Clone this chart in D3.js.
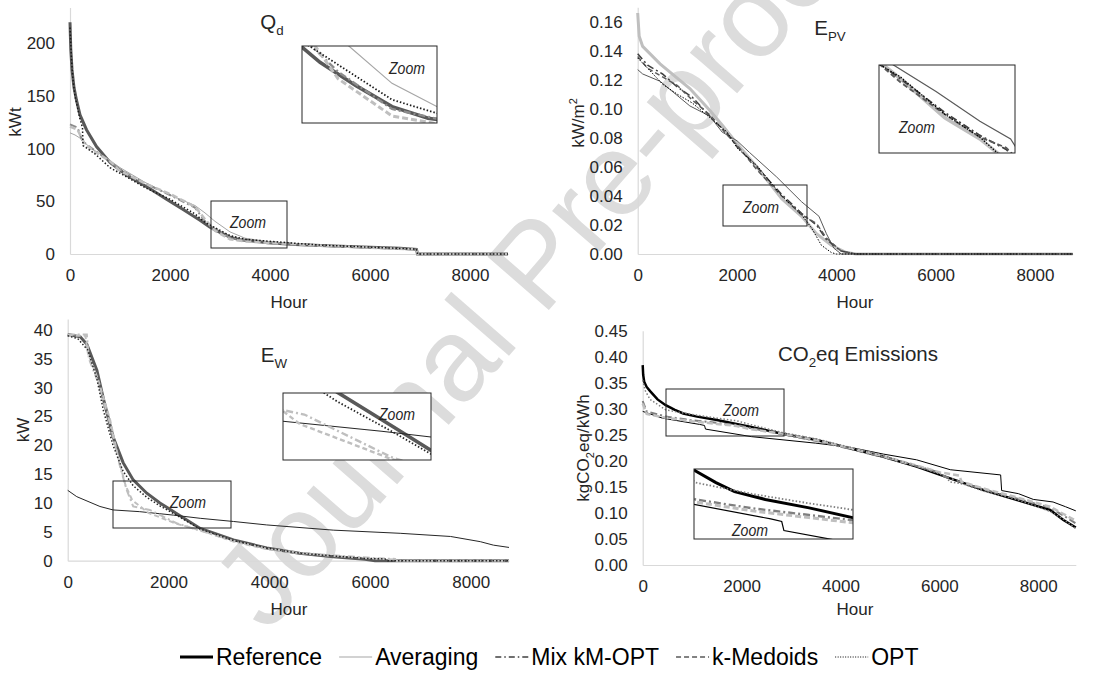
<!DOCTYPE html>
<html>
<head>
<meta charset="utf-8">
<script src="https://cdn.jsdelivr.net/npm/d3@7"></script>
<style>
  body { margin: 0; background: #fff; }
  svg text { font-family: "Liberation Sans", Arial, sans-serif; }
</style>
</head>
<body>
<svg id="chart" width="1094" height="678"></svg>
<script>
// ---- data: [hour, value] points of each duration curve ----
const hourTicks = [0, 2000, 4000, 6000, 8000];
const seriesNames = ["Reference", "Averaging", "Mix kM-OPT", "k-Medoids", "OPT"];

// Q_d (kWt)
const qdTicks = [0, 50, 100, 150, 200];
const qdRef  = [[0,220],[15,195],[40,175],[80,158],[130,146],[200,132],[330,118],[530,102],[800,87],[1130,75],[1600,62],[1930,52],[2270,42],[2600,32],[2800,25.5],[3000,20.5],[3200,16],[3400,13.5],[3700,12],[3950,10.7],[4500,9],[5270,7.6],[6000,6.4],[6600,5.4],[6930,4.4],[6950,0],[8760,0]];
const qdAvg  = [[0,115],[100,113],[200,110],[400,101],[700,92],[1000,82],[1500,68],[2000,56],[2500,46],[2700,39],[2900,31],[3200,21],[3500,15],[4000,11.5],[5000,8.2],[6000,6.2],[6930,4.4],[6950,0],[8760,0]];
const qdMix  = [[0,123],[150,120],[250,107],[500,98],[800,88],[1000,80],[1500,67],[2000,56],[2500,44],[2700,31],[2900,23.5],[3200,15.5],[3500,13],[4000,11],[5000,8],[6000,6],[6930,4.3],[6950,0],[8760,0]];
const qdKmed = [[0,121],[150,118],[300,104],[500,97],[800,88],[1000,79],[1500,67],[2000,57],[2500,45],[2700,33],[2900,22],[3200,14],[3500,12],[4000,10.5],[5000,8],[6000,6],[6930,4.3],[6950,0],[8760,0]];
const qdOpt  = [[0,215],[30,185],[60,165],[100,150],[200,128],[250,120],[260,103],[500,95],[800,82],[1100,74],[1500,63],[2000,52],[2500,38],[2700,30],[2900,25],[3200,17.5],[3500,14],[4000,12],[5000,8.5],[6000,6.5],[6930,4.6],[6950,0],[8760,0]];

// E_PV (kW/m2)
const pvTicks = [0, 0.02, 0.04, 0.06, 0.08, 0.10, 0.12, 0.14, 0.16];
const pvRef  = [[0,0.166],[30,0.150],[100,0.143],[450,0.131],[1050,0.114],[1450,0.099],[1720,0.088],[2000,0.076],[2400,0.060],[2900,0.038],[3300,0.026],[3600,0.014],[3900,0.006],[4200,0.001],[4400,0],[8760,0]];
const pvAvg  = [[0,0.127],[100,0.124],[450,0.119],[1050,0.102],[1450,0.095],[1700,0.084],[2000,0.078],[2250,0.070],[2800,0.053],[3300,0.036],[3650,0.026],[3800,0.014],[3950,0.004],[4100,0],[8760,0]];
const pvMix  = [[0,0.138],[200,0.130],[500,0.124],[800,0.115],[1100,0.108],[1450,0.095],[1800,0.083],[2000,0.074],[2400,0.060],[2900,0.041],[3300,0.028],[3600,0.020],[3800,0.010],[4100,0.002],[4400,0],[8760,0]];
const pvKmed = [[0,0.136],[200,0.128],[500,0.122],[800,0.116],[1100,0.106],[1450,0.096],[1800,0.082],[2000,0.075],[2400,0.058],[2900,0.040],[3300,0.027],[3600,0.021],[3800,0.011],[4100,0.002],[4400,0],[8760,0]];
const pvOpt  = [[0,0.135],[200,0.128],[500,0.117],[800,0.110],[1100,0.104],[1450,0.094],[1800,0.084],[2000,0.073],[2400,0.061],[2900,0.040],[3300,0.027],[3500,0.018],[3700,0.006],[3900,0.001],[4000,0],[8760,0]];

// E_W (kW)
const ewTicks = [0, 5, 10, 15, 20, 25, 30, 35, 40];
const ewRef  = [[0,39.2],[250,38.8],[380,37.5],[580,33],[710,28],[900,21.5],[1100,17],[1300,14],[1570,11.7],[1830,10],[2160,8.2],[2630,5.6],[3290,3.6],[3950,2.2],[4600,1.3],[5270,0.7],[5900,0.25],[6100,0],[8760,0]];
const ewAvg  = [[0,12.2],[180,11.1],[640,9.4],[900,8.8],[1430,8.5],[2100,7.9],[2630,7.35],[3290,6.8],[3950,6.2],[5270,5.3],[6600,4.75],[7600,4.2],[8190,3.3],[8450,2.7],[8760,2.3]];
const ewMix  = [[0,39.2],[380,39.2],[420,35],[600,31],[840,23.8],[1040,16.3],[1170,12.3],[1300,9.4],[1630,8.8],[2160,6.5],[2630,5.2],[3300,3.4],[3950,2.1],[4600,1.4],[5300,0.9],[6000,0.5],[6500,0.3],[6520,0],[8760,0]];
const ewKmed = [[0,39],[350,39],[400,36],[600,31.5],[840,24.5],[1000,18],[1150,13],[1280,10.5],[1600,8.3],[2160,6.4],[2630,5.3],[3300,3.3],[3950,2.0],[4600,1.3],[5300,0.8],[6000,0.4],[6500,0.2],[6520,0],[8760,0]];
const ewOpt  = [[0,39],[200,38.5],[400,36.5],[580,31.5],[710,26],[900,20],[1100,15.5],[1300,13],[1570,11],[1830,9.5],[2160,7.9],[2630,5.5],[3290,3.5],[3950,2.2],[4600,1.3],[5300,0.8],[5900,0.4],[6300,0.3],[6350,0],[8760,0]];

// CO2eq emissions (kgCO2eq/kWh)
const coTicks = [0, 0.05, 0.10, 0.15, 0.20, 0.25, 0.30, 0.35, 0.40, 0.45];
const coRef  = [[0,0.384],[10,0.365],[30,0.352],[80,0.342],[150,0.334],[300,0.318],[465,0.307],[650,0.298],[820,0.291],[1100,0.285],[1500,0.2785],[2170,0.2657],[2840,0.2516],[3520,0.240],[4190,0.224],[4870,0.208],[5540,0.189],[6220,0.1665],[6890,0.144],[7560,0.125],[8240,0.1057],[8510,0.0864],[8760,0.072]];
const coAvg  = [[0,0.295],[400,0.282],[1150,0.270],[1250,0.268],[1270,0.261],[2200,0.2465],[3500,0.234],[4200,0.226],[4870,0.213],[5540,0.202],[6220,0.183],[7240,0.173],[7260,0.143],[7600,0.137],[7900,0.126],[8300,0.121],[8550,0.112],[8760,0.104]];
const coMix  = [[0,0.315],[80,0.295],[465,0.285],[1000,0.278],[1500,0.273],[1900,0.269],[2170,0.263],[2840,0.251],[3520,0.238],[4190,0.223],[4870,0.207],[5540,0.190],[6000,0.178],[6100,0.170],[6890,0.145],[7560,0.128],[8240,0.110],[8510,0.095],[8760,0.080]];
const coKmed = [[0,0.310],[80,0.290],[465,0.283],[1000,0.276],[1500,0.271],[1900,0.267],[2170,0.261],[2840,0.252],[3520,0.240],[4190,0.225],[4870,0.209],[5540,0.191],[6000,0.178],[6400,0.172],[6450,0.160],[6890,0.147],[7560,0.130],[8240,0.112],[8510,0.098],[8760,0.085]];
const coOpt  = [[0,0.355],[50,0.335],[150,0.318],[465,0.298],[700,0.294],[1000,0.289],[1500,0.282],[1900,0.277],[2170,0.270],[2840,0.254],[3520,0.242],[4190,0.226],[4870,0.210],[5540,0.190],[6150,0.170],[6200,0.160],[6500,0.155],[6890,0.142],[7560,0.126],[8240,0.103],[8510,0.088],[8760,0.070]];

// ---- layout ----
const svg = d3.select("#chart");
const textColor = "#262626";

// watermark (behind everything, runs off the top edge like the original)
svg.append("text")
   .attr("transform", "translate(267,634) rotate(-49)")
   .attr("font-size", 118)
   .style("fill", "#dcdcdc")
   .text("Journal Pre-proof");

function rich(sel, parts, size) {
  let shift = 0;
  parts.forEach(([t, k]) => {
    const target = k === "sub" ? size * 0.3 : k === "sup" ? -size * 0.4 : 0;
    const ts = sel.append("tspan").attr("dy", target - shift).text(t);
    if (k) ts.attr("font-size", size * 0.65);
    shift = target;
  });
}

const panels = [
  { data: [qdRef, qdAvg, qdMix, qdKmed, qdOpt], xr: [70, 508], yd: [0, 234], yr: [254, 7.5],
    ticks: qdTicks, fmt: d3.format("d"),
    title: [["Q"], ["d", "sub"]], tx: 272, ty: 29,
    ylab: [["kWt"]], lx: 15, ly: 122, hx: 289, hy: 308,
    styles: [["#595959", 3, null], ["#a6a6a6", 1, null], ["#8c8c8c", 2, "7,3,2,3"], ["#bfbfbf", 2.5, "6,3"], ["#1a1a1a", 1.5, "1.5,2"]],
    box: [211, 201, 287, 248], boxText: [248, 222],
    inset: [302, 46, 437, 123], insetText: [407, 68], insetH: [2700, 3450], insetV: [12.5, 29] },
  { data: [pvRef, pvAvg, pvMix, pvKmed, pvOpt], xr: [637.7, 1072.7], yd: [0, 0.17], yr: [254, 7.2],
    ticks: pvTicks, fmt: d3.format(".2f"),
    title: [["E"], ["PV", "sub"]], tx: 830, ty: 35,
    ylab: [["kW/m"], ["2", "sup"]], lx: 578, ly: 123, hx: 855, hy: 308,
    styles: [["#bfbfbf", 3, null], ["#595959", 1, null], ["#404040", 1.5, "7,3,2,3"], ["#595959", 1.5, "5,3"], ["#000", 1, "1.5,1.5"]],
    box: [723, 185, 807, 226], boxText: [761, 207],
    inset: [879, 65, 1015, 153], insetText: [917, 127], insetH: [2150, 3700], insetV: [0.018, 0.068] },
  { data: [ewRef, ewAvg, ewMix, ewKmed, ewOpt], xr: [67.7, 509], yd: [0, 41.9], yr: [560.7, 319],
    ticks: ewTicks, fmt: d3.format("d"),
    title: [["E"], ["W", "sub"]], tx: 274, ty: 362,
    ylab: [["kW"]], lx: 23, ly: 430, hx: 289, hy: 615,
    styles: [["#595959", 3, null], ["#262626", 1, null], ["#bfbfbf", 2, "7,3,2,3"], ["#bfbfbf", 2, "5,3"], ["#262626", 1.5, "1.5,2"]],
    box: [113, 481, 231, 528], boxText: [188, 502],
    inset: [283, 393, 431, 460], insetText: [397, 414], insetH: [1500, 2400], insetV: [6.35, 9.96] },
  { data: [coRef, coAvg, coMix, coKmed, coOpt], xr: [642.7, 1075.8], yd: [0, 0.45], yr: [565, 330.7],
    ticks: coTicks, fmt: d3.format(".2f"),
    title: [["CO"], ["2", "sub"], ["eq Emissions"]], tx: 858, ty: 361,
    ylab: [["kgCO"], ["2", "sub"], ["eq/kWh"]], lx: 583, ly: 448, hx: 855, hy: 615,
    styles: [["#000", 2.5, null], ["#000", 1, null], ["#7f7f7f", 2, "7,3,2,3"], ["#bfbfbf", 2.5, "6,3"], ["#7f7f7f", 1.5, "1.5,2"]],
    box: [666, 389, 784, 436], boxText: [741, 410],
    inset: [694, 469, 853, 539], insetText: [750, 530], insetH: [450, 1900], insetV: [0.2545, 0.3085] }
];

panels.forEach((p, pi) => {
  const x = d3.scaleLinear().domain([0, 8760]).range(p.xr);
  const y = d3.scaleLinear().domain(p.yd).range(p.yr);
  const g = svg.append("g");

  const yAxis = g.append("g").attr("transform", `translate(${p.xr[0]},0)`)
    .call(d3.axisLeft(y).tickValues(p.ticks).tickFormat(p.fmt).tickSize(0).tickPadding(15));
  const xAxis = g.append("g").attr("transform", `translate(0,${p.yr[0]})`)
    .call(d3.axisBottom(x).tickValues(hourTicks).tickFormat(d3.format("d")).tickSize(0).tickPadding(15));
  [yAxis, xAxis].forEach(a => {
    a.attr("font-size", 17).attr("font-family", null);
    a.select(".domain").attr("stroke", "#d9d9d9").attr("stroke-width", 1.2);
    a.selectAll("text").attr("fill", textColor);
  });

  const line = d3.line().x(d => x(d[0])).y(d => y(d[1]));
  p.data.forEach((s, i) => {
    const [c, w, dash] = p.styles[i];
    g.append("path").datum(s)
     .attr("fill", "none").attr("stroke", c).attr("stroke-width", w)
     .attr("stroke-dasharray", dash).attr("d", line);
  });

  // title and axis titles
  const t = g.append("text").attr("x", p.tx).attr("y", p.ty)
    .attr("text-anchor", "middle").attr("font-size", 20.5).attr("fill", textColor);
  rich(t, p.title, 20.5);
  const yl = g.append("text").attr("transform", `translate(${p.lx + 6},${p.ly}) rotate(-90)`)
    .attr("text-anchor", "middle").attr("font-size", 17).attr("fill", textColor);
  rich(yl, p.ylab, 17);
  g.append("text").attr("x", p.hx).attr("y", p.hy).attr("text-anchor", "middle")
   .attr("font-size", 17).attr("fill", textColor).text("Hour");

  // zoom box on the curves
  const [bx0, by0, bx1, by1] = p.box;
  g.append("rect").attr("x", bx0).attr("y", by0).attr("width", bx1 - bx0).attr("height", by1 - by0)
   .attr("fill", "none").attr("stroke", "#262626").attr("stroke-width", 1);
  g.append("text").attr("x", p.boxText[0]).attr("y", p.boxText[1] + 6).attr("text-anchor", "middle")
   .attr("font-size", 16).attr("font-style", "italic").attr("fill", textColor)
   .attr("textLength", 36).attr("lengthAdjust", "spacingAndGlyphs").text("Zoom");

  // magnified inset
  const [ix0, iy0, ix1, iy1] = p.inset;
  const xi = d3.scaleLinear().domain(p.insetH).range([ix0, ix1]);
  const yi = d3.scaleLinear().domain(p.insetV).range([iy1, iy0]);
  const clipId = "clip" + pi;
  svg.append("clipPath").attr("id", clipId).append("rect")
     .attr("x", ix0).attr("y", iy0).attr("width", ix1 - ix0).attr("height", iy1 - iy0);
  g.append("rect").attr("x", ix0).attr("y", iy0).attr("width", ix1 - ix0).attr("height", iy1 - iy0)
   .attr("fill", "#fff");
  const ig = g.append("g").attr("clip-path", `url(#${clipId})`);
  const iline = d3.line().x(d => xi(d[0])).y(d => yi(d[1]));
  p.data.forEach((s, i) => {
    const [c, w, dash] = p.styles[i];
    ig.append("path").datum(s)
      .attr("fill", "none").attr("stroke", c).attr("stroke-width", w * 1.2)
      .attr("stroke-dasharray", dash).attr("d", iline);
  });
  g.append("rect").attr("x", ix0).attr("y", iy0).attr("width", ix1 - ix0).attr("height", iy1 - iy0)
   .attr("fill", "none").attr("stroke", "#262626").attr("stroke-width", 1);
  g.append("text").attr("x", p.insetText[0]).attr("y", p.insetText[1] + 6).attr("text-anchor", "middle")
   .attr("font-size", 16).attr("font-style", "italic").attr("fill", textColor)
   .attr("textLength", 36).attr("lengthAdjust", "spacingAndGlyphs").text("Zoom");
});

// legend
const legendStyles = [["#000", 3, null], ["#a6a6a6", 1.2, null], ["#404040", 1.5, "6,3,1.5,3"], ["#595959", 1.5, "5,3"], ["#000", 1, "1,1.5"]];
const legend = svg.append("g");
let lx = 180;
const ly = 657;
seriesNames.forEach((name, i) => {
  const [c, w, dash] = legendStyles[i];
  legend.append("line").attr("x1", lx).attr("x2", lx + 33).attr("y1", ly).attr("y2", ly)
        .attr("stroke", c).attr("stroke-width", w).attr("stroke-dasharray", dash);
  const txt = legend.append("text").attr("x", lx + 36).attr("y", ly + 8)
        .attr("font-size", 23).attr("fill", "#000").text(name);
  lx += 36 + txt.node().getComputedTextLength() + 17;
});
</script>
</body>
</html>
